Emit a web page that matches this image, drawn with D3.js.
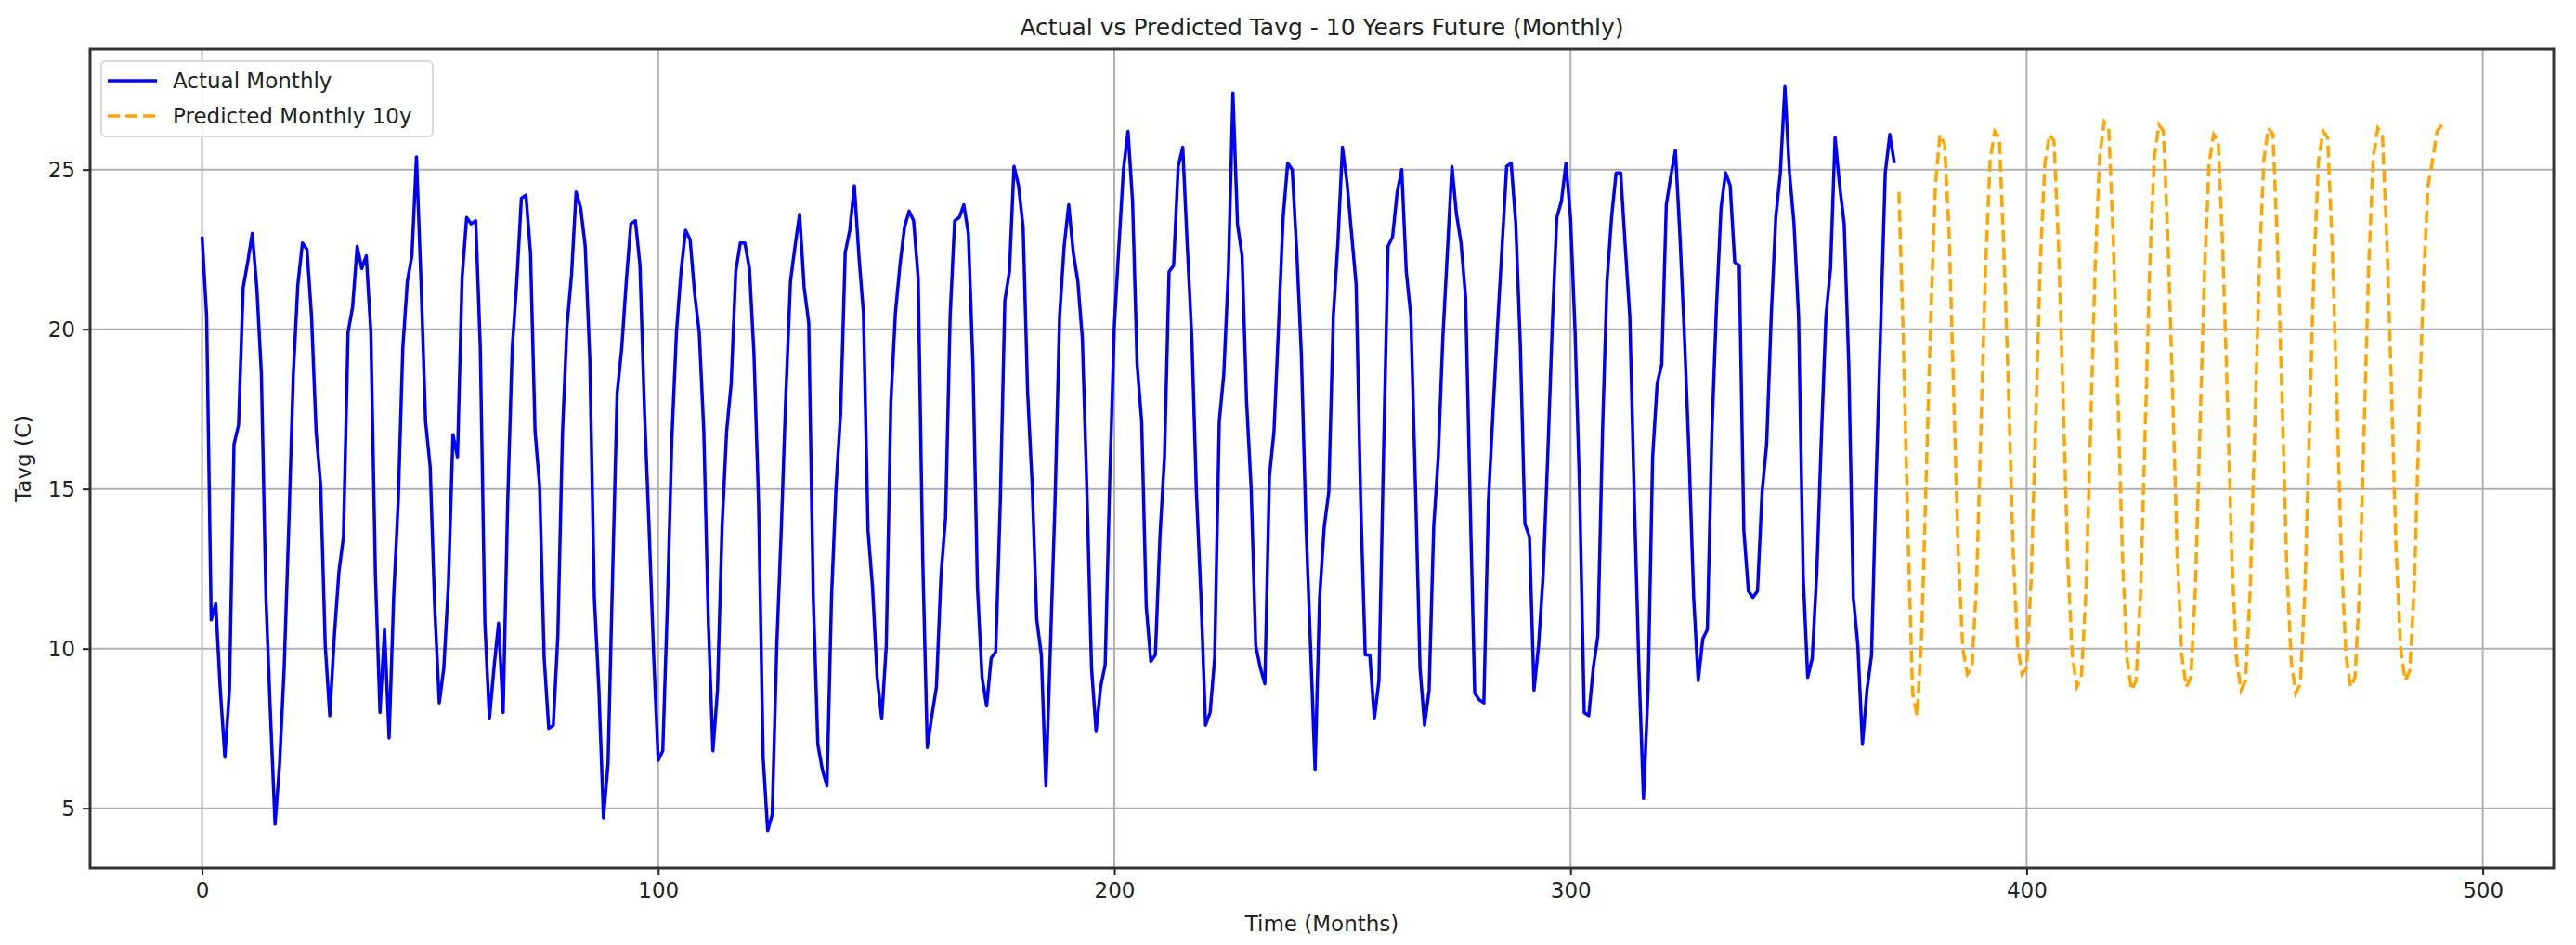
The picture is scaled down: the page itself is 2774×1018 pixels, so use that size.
<!DOCTYPE html>
<html><head><meta charset="utf-8">
<script src="https://cdn.jsdelivr.net/npm/d3@7"></script>
<style>body{margin:0;background:#fff}text{font-family:"DejaVu Sans",sans-serif;fill:#222}</style>
</head><body><svg id="c" width="2774" height="1018"></svg>
<script>
const actualValues = [
22.9,20.4,10.9,11.4,8.7,6.6,8.7,16.4,17.0,21.3,22.1,23.0,
21.3,18.6,11.6,7.9,4.5,6.4,9.4,13.8,18.6,21.4,22.7,22.5,
20.4,16.8,15.1,10.1,7.9,10.4,12.4,13.5,19.9,20.7,22.6,21.9,
22.3,19.9,12.3,8.0,10.6,7.2,11.6,14.6,19.4,21.5,22.3,25.4,
21.5,17.1,15.7,11.3,8.3,9.4,12.0,16.7,16.0,21.6,23.5,23.3,
23.4,19.4,10.8,7.8,9.4,10.8,8.0,14.6,19.4,21.5,24.1,24.2,
22.4,16.8,15.1,9.7,7.5,7.6,10.4,16.7,20.1,21.7,24.3,23.8,
22.6,19.1,11.6,8.7,4.7,6.4,12.3,18.0,19.4,21.5,23.3,23.4,
22.0,17.4,13.8,9.8,6.5,6.8,11.3,16.6,19.9,21.8,23.1,22.8,
21.1,19.9,16.8,10.8,6.8,8.7,13.8,16.8,18.3,21.8,22.7,22.7,
21.9,19.2,14.6,6.6,4.3,4.8,10.1,13.8,18.0,21.5,22.6,23.6,
21.3,20.2,11.6,7.0,6.2,5.7,11.6,15.1,17.4,22.4,23.1,24.5,
22.3,20.5,13.7,11.9,9.1,7.8,10.1,17.7,20.5,22.0,23.2,23.7,
23.4,21.6,12.8,6.9,7.9,8.8,12.3,14.1,20.4,23.4,23.5,23.9,
23.0,18.9,11.9,9.1,8.2,9.7,9.9,14.6,20.9,21.8,25.1,24.5,
23.2,18.0,15.1,10.9,9.8,5.7,10.1,14.6,20.4,22.6,23.9,22.4,
21.5,19.7,14.9,9.4,7.4,8.8,9.5,15.3,20.1,22.6,25.0,26.2,
24.0,18.9,17.1,11.3,9.6,9.8,13.5,16.0,21.8,22.0,25.1,25.7,
22.6,19.7,14.9,11.6,7.6,8.0,9.7,17.1,18.6,21.8,27.4,23.3,
22.3,17.7,15.0,10.1,9.4,8.9,15.4,16.8,20.1,23.5,25.2,25.0,
22.4,19.2,13.9,10.1,6.2,11.6,13.8,14.9,20.4,22.7,25.7,24.6,
23.0,21.4,14.6,9.8,9.8,7.8,9.0,16.0,22.6,22.9,24.3,25.0,
21.8,20.4,15.1,9.4,7.6,8.7,13.8,16.0,19.7,22.4,25.1,23.6,
22.7,21.0,14.6,8.6,8.4,8.3,14.6,17.4,20.1,22.6,25.1,25.2,
23.3,19.5,13.9,13.5,8.7,10.1,12.3,16.0,20.1,23.5,24.0,25.2,
23.5,19.9,14.9,8.0,7.9,9.4,10.4,16.7,21.5,23.5,24.9,24.9,
22.6,20.4,14.6,9.4,5.3,8.7,16.0,18.3,18.9,23.9,24.8,25.6,
22.9,19.7,16.0,11.6,9.0,10.3,10.6,16.8,20.7,23.8,24.9,24.5,
22.1,22.0,13.7,11.8,11.6,11.8,14.9,16.4,20.4,23.5,24.9,27.6,
24.9,23.3,20.4,12.3,9.1,9.7,12.4,16.6,20.4,21.9,26.0,24.5,
23.3,18.9,11.6,10.1,7.0,8.7,9.8,15.3,20.1,24.9,26.1,25.2
];
const predictedStart = 372;
const predictedValues = [
24.3,19.5,13.5,8.6,7.9,10.5,15.5,20.5,24.5,26.1,25.8,23.0,
18.0,13.0,10.0,9.2,9.4,12.0,17.0,22.0,25.3,26.2,26.0,22.5,
18.2,13.2,10.1,9.2,9.4,12.2,17.2,22.1,25.2,26.1,25.9,22.6,
17.8,12.8,9.8,8.8,9.1,11.8,16.8,21.9,25.4,26.5,26.3,22.8,
17.9,12.9,9.7,8.7,9.0,11.8,16.9,22.0,25.4,26.4,26.2,22.7,
18.0,13.0,9.8,8.8,9.1,11.9,16.9,21.8,25.2,26.1,25.9,22.5,
17.9,12.8,9.7,8.7,9.0,11.8,16.8,21.9,25.3,26.3,26.1,22.6,
17.8,12.7,9.6,8.6,8.9,11.8,16.9,22.0,25.3,26.2,26.0,22.6,
17.9,12.9,9.8,8.8,9.1,11.9,16.9,22.0,25.4,26.3,26.1,22.7,
18.1,13.1,10.0,9.0,9.3,12.0,17.0,21.5,24.5,25.3,26.2,26.4
];
const xTicks = [0,100,200,300,400,500];
const yTicks = [5,10,15,20,25];
const titleText = "Actual vs Predicted Tavg - 10 Years Future (Monthly)";
const xLabel = "Time (Months)", yLabel = "Tavg (C)";
const legendLabels = ["Actual Monthly","Predicted Monthly 10y"];

const actual = actualValues.map((v,i)=>({x:i,y:v}));
const predicted = predictedValues.map((v,i)=>({x:predictedStart+i,y:v}));

const L=97,R=2750,T=53,B=935;
const svg=d3.select("#c");
const x=d3.scaleLinear().domain([-24.55,515.55]).range([L,R]);
const y=d3.scaleLinear().domain([3.13,28.77]).range([B,T]);

// grid
svg.append("g").selectAll("line").data(xTicks).join("line")
 .attr("x1",d=>x(d)).attr("x2",d=>x(d)).attr("y1",T).attr("y2",B)
 .attr("stroke","#b0b0b0").attr("stroke-width",2);
svg.append("g").selectAll("line").data(yTicks).join("line")
 .attr("y1",d=>y(d)).attr("y2",d=>y(d)).attr("x1",L).attr("x2",R)
 .attr("stroke","#b0b0b0").attr("stroke-width",2);

const line=d3.line().x(d=>x(d.x)).y(d=>y(d.y));
svg.append("path").datum(actual).attr("d",line).attr("fill","none")
 .attr("stroke","#0000ff").attr("stroke-width",3.5).attr("stroke-linejoin","round");
svg.append("path").datum(predicted).attr("d",line).attr("fill","none")
 .attr("stroke","#ffa500").attr("stroke-width",3.5).attr("stroke-dasharray","13,6");

// axes
const xa=svg.append("g").attr("transform",`translate(0,${B})`).call(d3.axisBottom(x).tickValues(xTicks).tickSize(8).tickPadding(8));
const ya=svg.append("g").attr("transform",`translate(${L},0)`).call(d3.axisLeft(y).tickValues(yTicks).tickSize(8).tickPadding(8));
[xa,ya].forEach(a=>{a.select(".domain").remove();a.selectAll("text").attr("font-size",23).attr("font-family","DejaVu Sans").attr("fill","#222");a.selectAll("line").attr("stroke","#222").attr("stroke-width",2);});
svg.append("rect").attr("x",L).attr("y",T).attr("width",R-L).attr("height",B-T)
 .attr("fill","none").attr("stroke","#333").attr("stroke-width",3);

svg.append("text").attr("x",(L+R)/2).attr("y",38).attr("text-anchor","middle").attr("font-size",25).text(titleText);
svg.append("text").attr("x",(L+R)/2).attr("y",1003).attr("text-anchor","middle").attr("font-size",23).text(xLabel);
svg.append("text").attr("transform",`translate(33,${(T+B)/2}) rotate(-90)`).attr("text-anchor","middle").attr("font-size",23).text(yLabel);

// legend
const lg=svg.append("g");
lg.append("rect").attr("x",109).attr("y",66).attr("width",357).attr("height",81).attr("rx",5)
 .attr("fill","#fff").attr("fill-opacity",0.85).attr("stroke","#d8d8d8").attr("stroke-width",2);
const cols=["#0000ff","#ffa500"], dash=[null,"13,6"];
legendLabels.forEach((t,i)=>{
  const yy=87+i*38;
  lg.append("line").attr("x1",116).attr("x2",169).attr("y1",yy).attr("y2",yy)
    .attr("stroke",cols[i]).attr("stroke-width",3.5).attr("stroke-dasharray",dash[i]);
  lg.append("text").attr("x",186).attr("y",yy+8).attr("font-size",23).text(t);
});
</script></body></html>
